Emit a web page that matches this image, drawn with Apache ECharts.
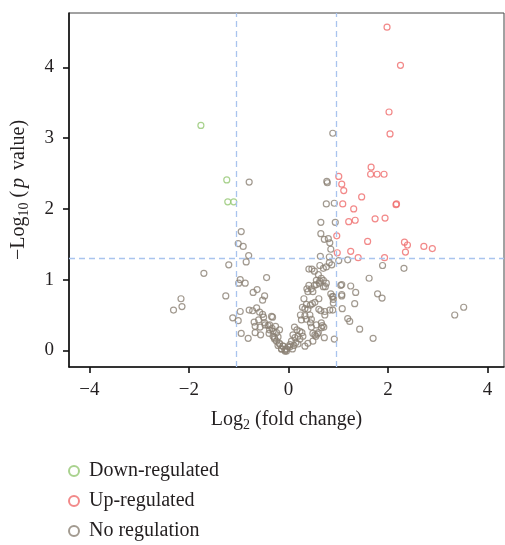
<!DOCTYPE html>
<html>
<head>
<meta charset="utf-8">
<script src="https://cdn.jsdelivr.net/npm/echarts@6/dist/echarts.min.js"></script>
<style>
  html, body { margin: 0; padding: 0; background: #fff; }
  #chart { width: 505px; height: 545px; }
</style>
</head>
<body>
<div id="chart"></div>
<script>
// log2(fold change), -log10(p value)
var downRegulated = [
  [-1.76, 3.18], [-1.24, 2.41], [-1.22, 2.10], [-1.10, 2.10]
];
var upRegulated = [
  [1.98, 4.57], [2.25, 4.03], [2.02, 3.37], [2.04, 3.06], [1.66, 2.59],
  [1.65, 2.49], [1.78, 2.49], [1.92, 2.49], [1.01, 2.46], [1.07, 2.35],
  [1.11, 2.26], [1.47, 2.17], [1.09, 2.07], [1.31, 2.00], [2.16, 2.06],
  [2.17, 2.07], [1.21, 1.82], [1.34, 1.84], [1.74, 1.86], [1.94, 1.87],
  [0.97, 1.62], [1.59, 1.54], [2.33, 1.53], [2.39, 1.49], [2.72, 1.47],
  [2.89, 1.44], [2.35, 1.39], [1.25, 1.40], [0.98, 1.38], [1.40, 1.31],
  [1.93, 1.31]
];
var noRegulation = [
  [-0.79, 2.38], [0.89, 3.07], [0.78, 2.37], [0.77, 2.39], [0.76, 2.07],
  [0.92, 2.08], [0.65, 1.81], [0.94, 1.81], [0.65, 1.65], [0.72, 1.57],
  [0.80, 1.58], [0.83, 1.52], [0.85, 1.43], [0.64, 1.33], [0.82, 1.32],
  [1.01, 1.27], [1.19, 1.28], [1.89, 1.20], [2.32, 1.16], [1.62, 1.02],
  [1.05, 0.92], [1.25, 0.91], [1.35, 0.82], [1.07, 0.77], [1.79, 0.80],
  [1.88, 0.74], [1.33, 0.66], [1.08, 0.59], [3.34, 0.50], [3.52, 0.61],
  [1.19, 0.45], [1.23, 0.41], [1.43, 0.30], [1.70, 0.17], [0.92, 0.16],
  [0.72, 0.18],
  [-0.95, 1.68], [-1.01, 1.51], [-0.91, 1.47], [-0.80, 1.34], [-0.85, 1.25],
  [-1.20, 1.21], [-1.70, 1.09], [-0.97, 1.00], [-0.87, 0.95], [-1.00, 0.95],
  [-0.44, 1.03], [-0.63, 0.86], [-0.71, 0.82], [-0.48, 0.77], [-0.52, 0.71],
  [-2.16, 0.73], [-2.14, 0.62], [-2.31, 0.57], [-1.26, 0.77], [-0.97, 0.55],
  [-1.12, 0.46], [-1.01, 0.42], [-0.79, 0.57], [-0.72, 0.56], [-0.64, 0.60],
  [-0.58, 0.54], [-0.52, 0.51], [-0.69, 0.40], [-0.60, 0.43], [-0.50, 0.47],
  [-0.32, 0.47], [-0.67, 0.34], [-0.57, 0.33], [-0.47, 0.36], [-0.41, 0.35],
  [-0.33, 0.31], [-0.26, 0.34], [-0.95, 0.24], [-0.81, 0.17], [-0.67, 0.25],
  [-0.56, 0.22], [-0.39, 0.24], [-0.31, 0.20], [-0.21, 0.19], [-0.24, 0.13],
  [-0.18, 0.09], [-0.11, 0.06], [-0.04, 0.02], [0.03, 0.05], [-0.21, 0.07],
  [-0.14, 0.02], [-0.07, -0.01], [-0.28, 0.16], [-0.38, 0.29], [-0.31, 0.27],
  [-0.24, 0.25], [-0.18, 0.29], [-0.34, 0.48], [-0.48, 0.39], [-0.38, 0.36],
  [-0.28, 0.18],
  [0.47, 1.15], [0.41, 1.15], [0.52, 1.12], [0.63, 1.20], [0.70, 1.16],
  [0.76, 1.18], [0.87, 1.21], [0.82, 1.24], [0.60, 1.07], [0.66, 1.02],
  [0.56, 0.99], [0.70, 0.99], [0.62, 0.95], [0.70, 0.90], [0.74, 0.90],
  [0.41, 0.92], [0.46, 0.87], [0.37, 0.87], [0.52, 0.92], [0.39, 0.83],
  [0.49, 0.83], [0.85, 0.80], [0.88, 0.76], [0.90, 0.72], [0.31, 0.73],
  [0.61, 0.73], [0.53, 0.68], [0.48, 0.66], [0.36, 0.65], [0.28, 0.61],
  [0.33, 0.59], [0.44, 0.64], [0.39, 0.58], [0.61, 0.58], [0.65, 0.56],
  [0.73, 0.55], [0.83, 0.57], [0.89, 0.57], [0.73, 0.50], [0.24, 0.50],
  [0.33, 0.49], [0.43, 0.50], [0.26, 0.43], [0.36, 0.44], [0.46, 0.44],
  [0.66, 0.39], [0.68, 0.35], [0.71, 0.33], [0.66, 0.32], [0.56, 0.36],
  [0.44, 0.39], [0.46, 0.33], [0.49, 0.24], [0.58, 0.23], [0.55, 0.20],
  [0.12, 0.33], [0.17, 0.29], [0.23, 0.27], [0.27, 0.25], [0.09, 0.22],
  [0.19, 0.20], [0.13, 0.18], [0.23, 0.16], [0.29, 0.20], [0.06, 0.13],
  [0.15, 0.11], [0.03, 0.08], [0.11, 0.07], [0.19, 0.09], [-0.01, 0.05],
  [0.08, 0.02], [-0.07, 0.01], [-0.04, -0.01], [-0.14, 0.02], [-0.11, 0.06],
  [-0.18, 0.10], [0.39, 0.10], [0.49, 0.13], [0.33, 0.06], [0.90, 0.67],
  [0.90, 0.76], [1.07, 0.93], [1.07, 0.79], [0.53, 0.22], [0.60, 0.25],
  [0.56, 0.93], [0.63, 0.98], [0.76, 0.95]
];
var xTicks = [-4, -2, 0, 2, 4];
var yTicks = [0, 1, 2, 3, 4];
var foldCutoffs = [-1.05, 0.95];
var pCutoff = 1.3;

var FONT = '"Liberation Serif", "DejaVu Serif", serif';
var TXT = '#231f20';

var chart = echarts.init(document.getElementById('chart'));

function pointSeries(name, data, color) {
  return {
    name: name,
    type: 'scatter',
    data: data,
    symbol: 'circle',
    symbolSize: 6,
    itemStyle: { color: 'rgba(255,255,255,0)', borderColor: color, borderWidth: 1.2 },
    emphasis: { disabled: true },
    silent: true
  };
}

var cutLines = foldCutoffs.map(function (v) { return { xAxis: v }; });
cutLines.push({ yAxis: pCutoff });

var series = [
  pointSeries('No regulation', noRegulation, '#8b8174'),
  pointSeries('Up-regulated', upRegulated, '#ef6b6b'),
  pointSeries('Down-regulated', downRegulated, '#93c772')
];
series[0].markLine = {
  silent: true,
  symbol: 'none',
  label: { show: false },
  animation: false,
  lineStyle: { color: '#a9c4ee', type: [6, 4], width: 1.3 },
  data: cutLines
};

var option = {
  animation: false,
  grid: {
    left: 69, right: 1, top: 13, bottom: 178,
    show: true, borderColor: '#444', borderWidth: 1
  },
  legend: {
    orient: 'vertical',
    left: 68,
    top: 461,
    padding: 0,
    itemGap: 10,
    itemWidth: 10,
    itemHeight: 10,
    icon: 'circle',
    textStyle: { fontFamily: FONT, fontSize: 20, lineHeight: 20, color: TXT, padding: [0, 0, 0, 5] },
    data: ['Down-regulated', 'Up-regulated', 'No regulation']
  },
  xAxis: {
    type: 'value',
    min: -4.41,
    max: 4.33,
    name: 'Log{sub|2} (fold change)',
    nameLocation: 'middle',
    nameGap: 41,
    nameTextStyle: {
      fontFamily: FONT, fontSize: 20, color: TXT,
      rich: { sub: { fontFamily: FONT, fontSize: 14, color: TXT, padding: [10, 0, 0, 0] } }
    },
    axisLine: { show: true, onZero: false, lineStyle: { color: '#111', width: 1.6 } },
    axisTick: { show: true, length: 6, customValues: xTicks, lineStyle: { color: '#111', width: 1.6 } },
    axisLabel: {
      customValues: xTicks, margin: 14,
      fontFamily: FONT, fontSize: 19, color: TXT,
      formatter: function (v) { return String(v).replace('-', '\u2212'); }
    },
    splitLine: { show: false }
  },
  yAxis: {
    type: 'value',
    min: -0.235,
    max: 4.77,
    name: '\u2212Log{sub|10} ({it|p} value)',
    nameLocation: 'middle',
    nameRotate: 90,
    nameGap: 38,
    nameTextStyle: {
      fontFamily: FONT, fontSize: 20, color: TXT,
      rich: {
        sub: { fontFamily: FONT, fontSize: 14, color: TXT, padding: [10, 0, 0, 0] },
        it: { fontFamily: FONT, fontSize: 20, color: TXT, fontStyle: 'italic', padding: [0, 3, 0, 3] }
      }
    },
    axisLine: { show: true, onZero: false, lineStyle: { color: '#111', width: 1.6 } },
    axisTick: { show: true, length: 6, customValues: yTicks, lineStyle: { color: '#111', width: 1.6 } },
    axisLabel: {
      customValues: yTicks, margin: 15,
      fontFamily: FONT, fontSize: 19, color: TXT
    },
    splitLine: { show: false }
  },
  series: series
};

chart.setOption(option);
</script>
</body>
</html>
